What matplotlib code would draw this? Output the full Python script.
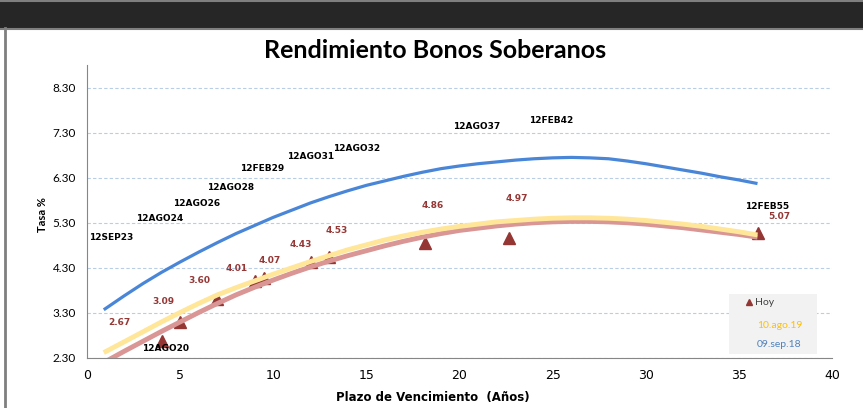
import numpy as np
import matplotlib.pyplot as plt
from matplotlib.lines import Line2D
from matplotlib.patches import Rectangle

# Hoy (triangles)
hoy_x = [4.0, 5.0, 7.0, 9.0, 9.5, 12.0, 13.0, 18.15, 22.65, 36.0]
hoy_y = [2.67, 3.09, 3.60, 4.01, 4.07, 4.43, 4.53, 4.86, 4.97, 5.07]
hoy_lbl = ['2.67', '3.09', '3.60', '4.01', '4.07', '4.43', '4.53', '4.86', '4.97', '5.07']

# curve x positions (read every year of maturity)
curve_x = [0.9, 2, 3, 4, 5, 6, 7, 8, 9, 10, 11, 12, 13, 14, 15, 16, 17, 18,
           19, 20, 21, 22, 23, 24, 25, 26, 27, 28, 29, 30, 31, 32, 33, 34, 35, 36]
# red trend curve for Hoy
red_y = [2.20, 2.45, 2.67, 2.89, 3.10, 3.31, 3.51, 3.70, 3.87, 4.03, 4.18, 4.32,
         4.45, 4.57, 4.68, 4.79, 4.89, 4.98, 5.06, 5.13, 5.18, 5.23, 5.27, 5.30,
         5.32, 5.33, 5.33, 5.32, 5.30, 5.27, 5.23, 5.19, 5.14, 5.09, 5.04, 4.98]
# 10.ago.19 curve
ago_y = [2.42, 2.66, 2.88, 3.10, 3.31, 3.51, 3.70, 3.86, 4.01, 4.16, 4.30, 4.44,
         4.57, 4.70, 4.81, 4.92, 5.01, 5.09, 5.16, 5.22, 5.27, 5.32, 5.35, 5.38,
         5.40, 5.41, 5.41, 5.40, 5.38, 5.35, 5.31, 5.27, 5.22, 5.16, 5.10, 5.03]
# 09.sep.18 curve
sep_y = [3.37, 3.68, 3.95, 4.20, 4.43, 4.65, 4.86, 5.06, 5.24, 5.42, 5.58, 5.74,
         5.88, 6.01, 6.13, 6.23, 6.33, 6.42, 6.50, 6.56, 6.61, 6.65, 6.69, 6.72,
         6.74, 6.75, 6.74, 6.72, 6.67, 6.61, 6.54, 6.47, 6.40, 6.32, 6.25, 6.17]

# bond names
bonos = ['12AGO20', '12SEP23', '12AGO24', '12AGO26', '12AGO28', '12FEB29',
         '12AGO31', '12AGO32', '12AGO37', '12FEB42', '12FEB55']
bono_x = [4.2, 1.3, 3.9, 5.9, 7.7, 9.4, 12.0, 14.5, 20.9, 24.9, 36.5]
bono_y = [2.50, 4.97, 5.39, 5.72, 6.08, 6.50, 6.77, 6.94, 7.43, 7.57, 5.66]

yticks = [2.30, 3.30, 4.30, 5.30, 6.30, 7.30, 8.30]
leg_names = ['Hoy', '10.ago.19', '09.sep.18']
leg_colors = ['#404040', '#ffc000', '#4f81bd']

fig = plt.figure(figsize=(8.63, 4.08), dpi=100)
fig.patch.set_facecolor('white')

# dark header band and frame
fig.patches.append(Rectangle((0, 1 - 28/408), 1, 28/408, transform=fig.transFigure,
                             facecolor='#262626', edgecolor='none', zorder=0))
fig.lines.append(Line2D([0, 1], [1 - 28.5/408]*2, transform=fig.transFigure, color='#7f7f7f', lw=1.5))
fig.lines.append(Line2D([0, 1], [1 - 1/408]*2, transform=fig.transFigure, color='#7f7f7f', lw=1.5))
fig.lines.append(Line2D([4.5/863]*2, [0, 1 - 28/408], transform=fig.transFigure, color='#7f7f7f', lw=2))

ax = fig.add_axes([87/863, 50/408, 745/863, 293/408])

ax.plot(hoy_x, hoy_y, '^', color='#943634', ms=8, zorder=2)
ax.plot(curve_x, red_y, color='#d99694', lw=3.5, zorder=3, solid_capstyle='butt')
ax.plot(curve_x, ago_y, color='#ffe699', lw=3.5, zorder=3, solid_capstyle='butt')
ax.plot(curve_x, sep_y, color='#4a86d8', lw=2.3, zorder=3, solid_capstyle='butt')

# value labels for Hoy (offsets in pixels)
offs = [(-42, 19), (-17, 21), (-18, 19), (-18, 12), (6, 18), (-10, 17), (8, 27), (8, 37), (8, 39), (22, 17)]
for x, y, t, (dx, dy) in zip(hoy_x, hoy_y, hoy_lbl, offs):
    ax.annotate(t, (x, y), xytext=(dx*0.72, dy*0.72), textcoords='offset points',
                ha='center', va='center', fontsize=6.5, fontweight='bold', color='#953735', zorder=5)

for t, x, y in zip(bonos, bono_x, bono_y):
    ax.text(x, y, t, ha='center', va='center', fontsize=6.5, fontweight='bold', color='black', zorder=6)

ax.set_xlim(0, 40)
ax.set_ylim(2.3, 8.8)
ax.set_xticks(range(0, 41, 5))
ax.set_yticks(yticks)
ax.set_yticklabels(['%.2f' % v for v in yticks], fontsize=8.5, family='Lato')
ax.tick_params(axis='x', labelsize=9, length=0, pad=8)
ax.tick_params(axis='y', length=0, pad=8)
ax.yaxis.grid(True, ls=(0, (3, 2)), color='#b9cde5', lw=0.8)
ax.set_axisbelow(True)
for s in ['top', 'right']:
    ax.spines[s].set_visible(False)
for s in ['left', 'bottom']:
    ax.spines[s].set_color('#868686')

ax.set_ylabel('Tasa %', fontsize=8, fontweight='bold', family='Lato', va='center')
ax.yaxis.set_label_coords((42 - 87)/745, (358 - 215)/293)
ax.set_xlabel('Plazo de Vencimiento  (Años)', fontsize=8.5, fontweight='bold', va='center')
ax.xaxis.set_label_coords((433 - 87)/745, -(398 - 358)/293)
fig.text(435/863, 1 - 50/408, 'Rendimiento Bonos Soberanos', ha='center', va='center',
         fontsize=18, fontweight='bold', family='Lato')

# legend box (drawn by hand to match the spacing)
ax.add_patch(Rectangle((0.8617, 0.0137), 0.1183, 0.2047, transform=ax.transAxes,
                       facecolor='#f2f2f2', edgecolor='none', zorder=7))
ax.plot([0.8886], [0.191], '^', color='#943634', ms=5, transform=ax.transAxes, zorder=8)
leg_x = [0.897, 0.8993, 0.8993]
leg_y = [0.191, 0.1126, 0.0444]
for t, c, lx, ly in zip(leg_names, leg_colors, leg_x, leg_y):
    ax.text(lx, ly, t, transform=ax.transAxes, ha='left', va='center', fontsize=7.5,
            family='Lato', color=c, zorder=8)

plt.savefig('out.png', dpi=100)
